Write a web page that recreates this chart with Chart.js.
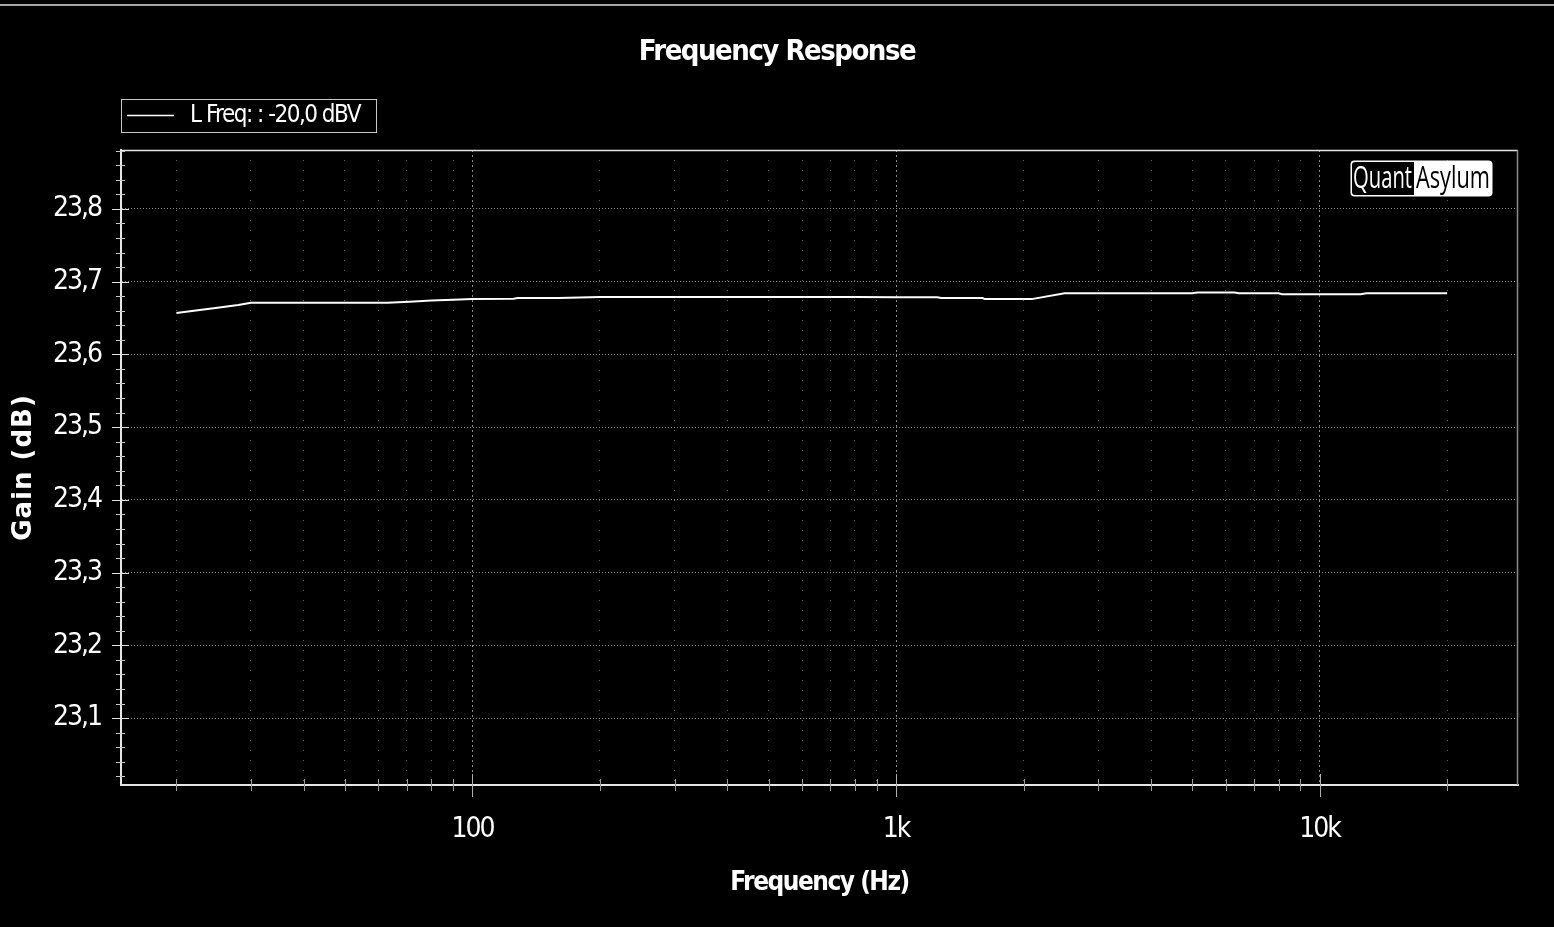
<!DOCTYPE html>
<html><head><meta charset="utf-8">
<script src="https://cdn.jsdelivr.net/npm/chart.js@4.4.1/dist/chart.umd.min.js"></script>
<style>
html,body{margin:0;padding:0;background:#000;overflow:hidden}
#wrap{position:relative;width:1554px;height:927px}
canvas{display:block}
</style></head><body>
<div id="wrap"><canvas id="c" width="1554" height="927"></canvas></div>
<script>
// ---- data ----
const seriesLabel = 'L Freq: : -20,0 dBV';
const freqHz = [20, 22, 25, 28, 30, 40, 50, 63, 71, 80, 90, 100, 125, 128, 160, 200, 250, 315, 400, 500, 630, 800, 1000, 1250, 1280, 1600, 1620, 2000, 2090, 2500, 3150, 4000, 5000, 5150, 6300, 6450, 8000, 8150, 10000, 12500, 12900, 16000, 20000];
const gainDb = [23.657, 23.660, 23.664, 23.668, 23.671, 23.671, 23.671, 23.671, 23.6725, 23.674, 23.675, 23.676, 23.6765, 23.6775, 23.6775, 23.679, 23.679, 23.679, 23.679, 23.679, 23.679, 23.679, 23.6785, 23.6785, 23.6775, 23.6775, 23.676, 23.676, 23.676, 23.684, 23.684, 23.684, 23.684, 23.685, 23.685, 23.684, 23.684, 23.6828, 23.6828, 23.6828, 23.684, 23.684, 23.684];
const xTickValues = [20, 30, 40, 50, 60, 70, 80, 90, 100, 200, 300, 400, 500, 600, 700, 800, 900, 1000, 2000, 3000, 4000, 5000, 6000, 7000, 8000, 9000, 10000, 20000];
const xMajorValues = [100, 1000, 10000];
const xMajorLabels = ['100', '1k', '10k'];
const yMajorValues = [23.1, 23.2, 23.3, 23.4, 23.5, 23.6, 23.7, 23.8];
const yMajorLabels = ['23,1', '23,2', '23,3', '23,4', '23,5', '23,6', '23,7', '23,8'];
const yMinorStep = 0.02;
const chartTitle = 'Frequency Response';
const xTitle = 'Frequency (Hz)';
const yTitle = 'Gain (dB)';
const logoLeft = 'Quant', logoRight = 'Asylum';

const NARROW = '"Liberation Sans Narrow", "Arial Narrow", "DejaVu Sans Condensed", sans-serif';
const SPACING = '-1.5px';
const TICK_SPACING = '-2px';

const yTickValues = [];
for (let k = 1; k <= 44; k++) yTickValues.push(+(23.0 + k * yMinorStep).toFixed(2));

const isYMajor = v => yMajorValues.some(m => Math.abs(m - v) < 1e-6);
const isXMajor = v => xMajorValues.includes(v);

// per-part letter spacing on the scale's own drawing routines
function withSpacing(scale, method, spacing) {
  if (scale['_sp_' + method]) return;
  scale['_sp_' + method] = true;
  const orig = Object.getPrototypeOf(scale)[method];
  scale[method] = function (...args) {
    const c = this.ctx, old = c.letterSpacing;
    c.letterSpacing = spacing;
    const r = orig.apply(this, args);
    c.letterSpacing = old;
    return r;
  };
}

const bgPlugin = {
  id: 'bg',
  beforeDraw(chart) {
    const ctx = chart.ctx;
    ctx.save();
    ctx.fillStyle = '#000';
    ctx.fillRect(0, 0, chart.width, chart.height);
    ctx.strokeStyle = '#dcdcdc';
    ctx.lineWidth = 1.5;
    ctx.beginPath(); ctx.moveTo(0, 5); ctx.lineTo(chart.width, 5); ctx.stroke();
    ctx.restore();
    ctx.letterSpacing = SPACING;
  }
};

const decoPlugin = {
  id: 'deco',
  afterDraw(chart) {
    const ctx = chart.ctx;
    const {left, right, top, bottom} = chart.chartArea;
    const xs = chart.scales.x, ys = chart.scales.y;
    ctx.save();
    // top and right frame
    ctx.lineWidth = 1.5;
    ctx.strokeStyle = '#e6e6e6';
    ctx.beginPath(); ctx.moveTo(left, top + 0.5); ctx.lineTo(right, top + 0.5); ctx.stroke();
    ctx.strokeStyle = '#8c8c8c';
    ctx.beginPath(); ctx.moveTo(right - 0.5, top); ctx.lineTo(right - 0.5, bottom); ctx.stroke();
    // x tick marks crossing the axis
    ctx.lineWidth = 1;
    xs.ticks.forEach(t => {
      const px = Math.round(xs.getPixelForValue(t.value)) + 0.5;
      const maj = isXMajor(t.value);
      ctx.strokeStyle = maj ? '#b0b0b0' : '#9a9a9a';
      ctx.beginPath();
      ctx.moveTo(px, bottom - (maj ? 11 : 6));
      ctx.lineTo(px, bottom + (maj ? 12 : 6));
      ctx.stroke();
    });
    // y tick marks crossing the axis
    ys.ticks.forEach(t => {
      const py = Math.round(ys.getPixelForValue(t.value)) + 0.5;
      const maj = isYMajor(t.value);
      ctx.strokeStyle = maj ? '#e0e0e0' : '#c8c8c8';
      ctx.beginPath();
      ctx.moveTo(left - (maj ? 9 : 5), py);
      ctx.lineTo(left + (maj ? 8 : 4), py);
      ctx.stroke();
    });
    // legend
    const ds = chart.data.datasets[0];
    ctx.strokeStyle = '#c8c8c8';
    ctx.lineWidth = 1;
    ctx.strokeRect(121.5, 99.5, 255, 33);
    ctx.strokeStyle = '#ffffff';
    ctx.lineWidth = 1.5;
    ctx.beginPath(); ctx.moveTo(127, 115.5); ctx.lineTo(174, 115.5); ctx.stroke();
    ctx.fillStyle = '#ffffff';
    ctx.letterSpacing = SPACING;
    ctx.font = '24px ' + NARROW;
    ctx.textBaseline = 'middle';
    ctx.textAlign = 'left';
    ctx.fillText(ds.label, 190, 116);
    // logo
    ctx.letterSpacing = '0px';
    const lx = 1350.5, ly = 160.5, lw = 142, lh = 36, split = 1414;
    ctx.beginPath();
    ctx.roundRect(lx, ly, lw, lh, 4);
    ctx.fillStyle = '#ffffff';
    ctx.fill();
    ctx.fillStyle = '#000';
    ctx.beginPath();
    ctx.roundRect(lx + 1.5, ly + 1.5, split - lx - 1.5, lh - 3, [3, 0, 0, 3]);
    ctx.fill();
    ctx.font = '31px "Open Sans", sans-serif';
    ctx.textBaseline = 'alphabetic';
    const drawFit = (txt, x0, w, color) => {
      const m = ctx.measureText(txt).width;
      ctx.save();
      ctx.translate(x0, 188);
      ctx.scale(w / m, 1);
      ctx.fillStyle = color;
      ctx.fillText(txt, 0, 0);
      ctx.restore();
    };
    drawFit(logoLeft, 1353, 59, '#ffffff');
    drawFit(logoRight, 1416, 74, '#000000');
    ctx.restore();
  }
};

new Chart(document.getElementById('c'), {
  type: 'line',
  data: {
    datasets: [{
      label: seriesLabel,
      data: freqHz.map((f, i) => ({x: f, y: gainDb[i]})),
      borderColor: '#ffffff',
      borderWidth: 2,
      pointRadius: 0,
      tension: 0,
      fill: false
    }]
  },
  options: {
    responsive: false,
    animation: false,
    devicePixelRatio: 1,
    layout: {padding: 0},
    plugins: {
      legend: {display: false},
      tooltip: {enabled: false},
      title: {
        display: true,
        text: chartTitle,
        color: '#ffffff',
        font: {family: NARROW, size: 29, weight: 'bold', lineHeight: '40px'},
        padding: {top: 32, bottom: 78}
      }
    },
    scales: {
      x: {
        type: 'logarithmic',
        min: 14.8,
        max: 29400,
        afterBuildTicks: s => { s.ticks = xTickValues.map(v => ({value: v, major: isXMajor(v)})); },
        afterFit: s => { s.height = 142; withSpacing(s, 'drawLabels', TICK_SPACING); },
        ticks: {
          autoSkip: false,
          maxRotation: 0,
          color: '#ffffff',
          padding: 28,
          font: {family: NARROW, size: 28},
          callback: v => { const i = xMajorValues.indexOf(v); return i >= 0 ? xMajorLabels[i] : ''; }
        },
        grid: {
          drawTicks: false,
          color: c => (c.tick && isXMajor(c.tick.value)) ? '#8c8c8c' : '#5c5c5c',
          lineWidth: 1
        },
        border: {
          display: true,
          color: '#e6e6e6',
          width: 2,
          dash: c => (c.tick && isXMajor(c.tick.value)) ? [2, 3] : [1, 9]
        },
        title: {
          display: true,
          text: xTitle,
          color: '#ffffff',
          font: {family: NARROW, size: 26, weight: 'bold'},
          padding: {top: 0, bottom: 28}
        }
      },
      y: {
        type: 'linear',
        min: 23.008,
        max: 23.881,
        afterBuildTicks: s => { s.ticks = yTickValues.map(v => ({value: v})); },
        afterFit: s => {
          s.width = 121;
          withSpacing(s, 'drawLabels', TICK_SPACING);
          withSpacing(s, 'drawTitle', '1px');
        },
        ticks: {
          autoSkip: false,
          color: '#ffffff',
          padding: 20,
          font: {family: NARROW, size: 28},
          callback: v => { const i = yMajorValues.findIndex(m => Math.abs(m - v) < 1e-6); return i >= 0 ? yMajorLabels[i] : ''; }
        },
        grid: {
          drawTicks: false,
          color: c => (c.tick && isYMajor(c.tick.value)) ? '#8c8c8c' : 'rgba(0,0,0,0)',
          lineWidth: 1
        },
        border: {
          display: true,
          color: '#e6e6e6',
          width: 2,
          dash: [1, 2]
        },
        title: {
          display: true,
          text: yTitle,
          color: '#ffffff',
          font: {family: '"DejaVu Sans", sans-serif', size: 26, weight: 'bold'},
          padding: {top: 9, bottom: 0}
        }
      },
      yRight: {
        type: 'linear',
        position: 'right',
        display: true,
        afterFit: s => { s.width = 36; },
        ticks: {display: false},
        grid: {display: false, drawTicks: false},
        border: {display: false}
      }
    }
  },
  plugins: [bgPlugin, decoPlugin]
});
</script>
</body></html>
